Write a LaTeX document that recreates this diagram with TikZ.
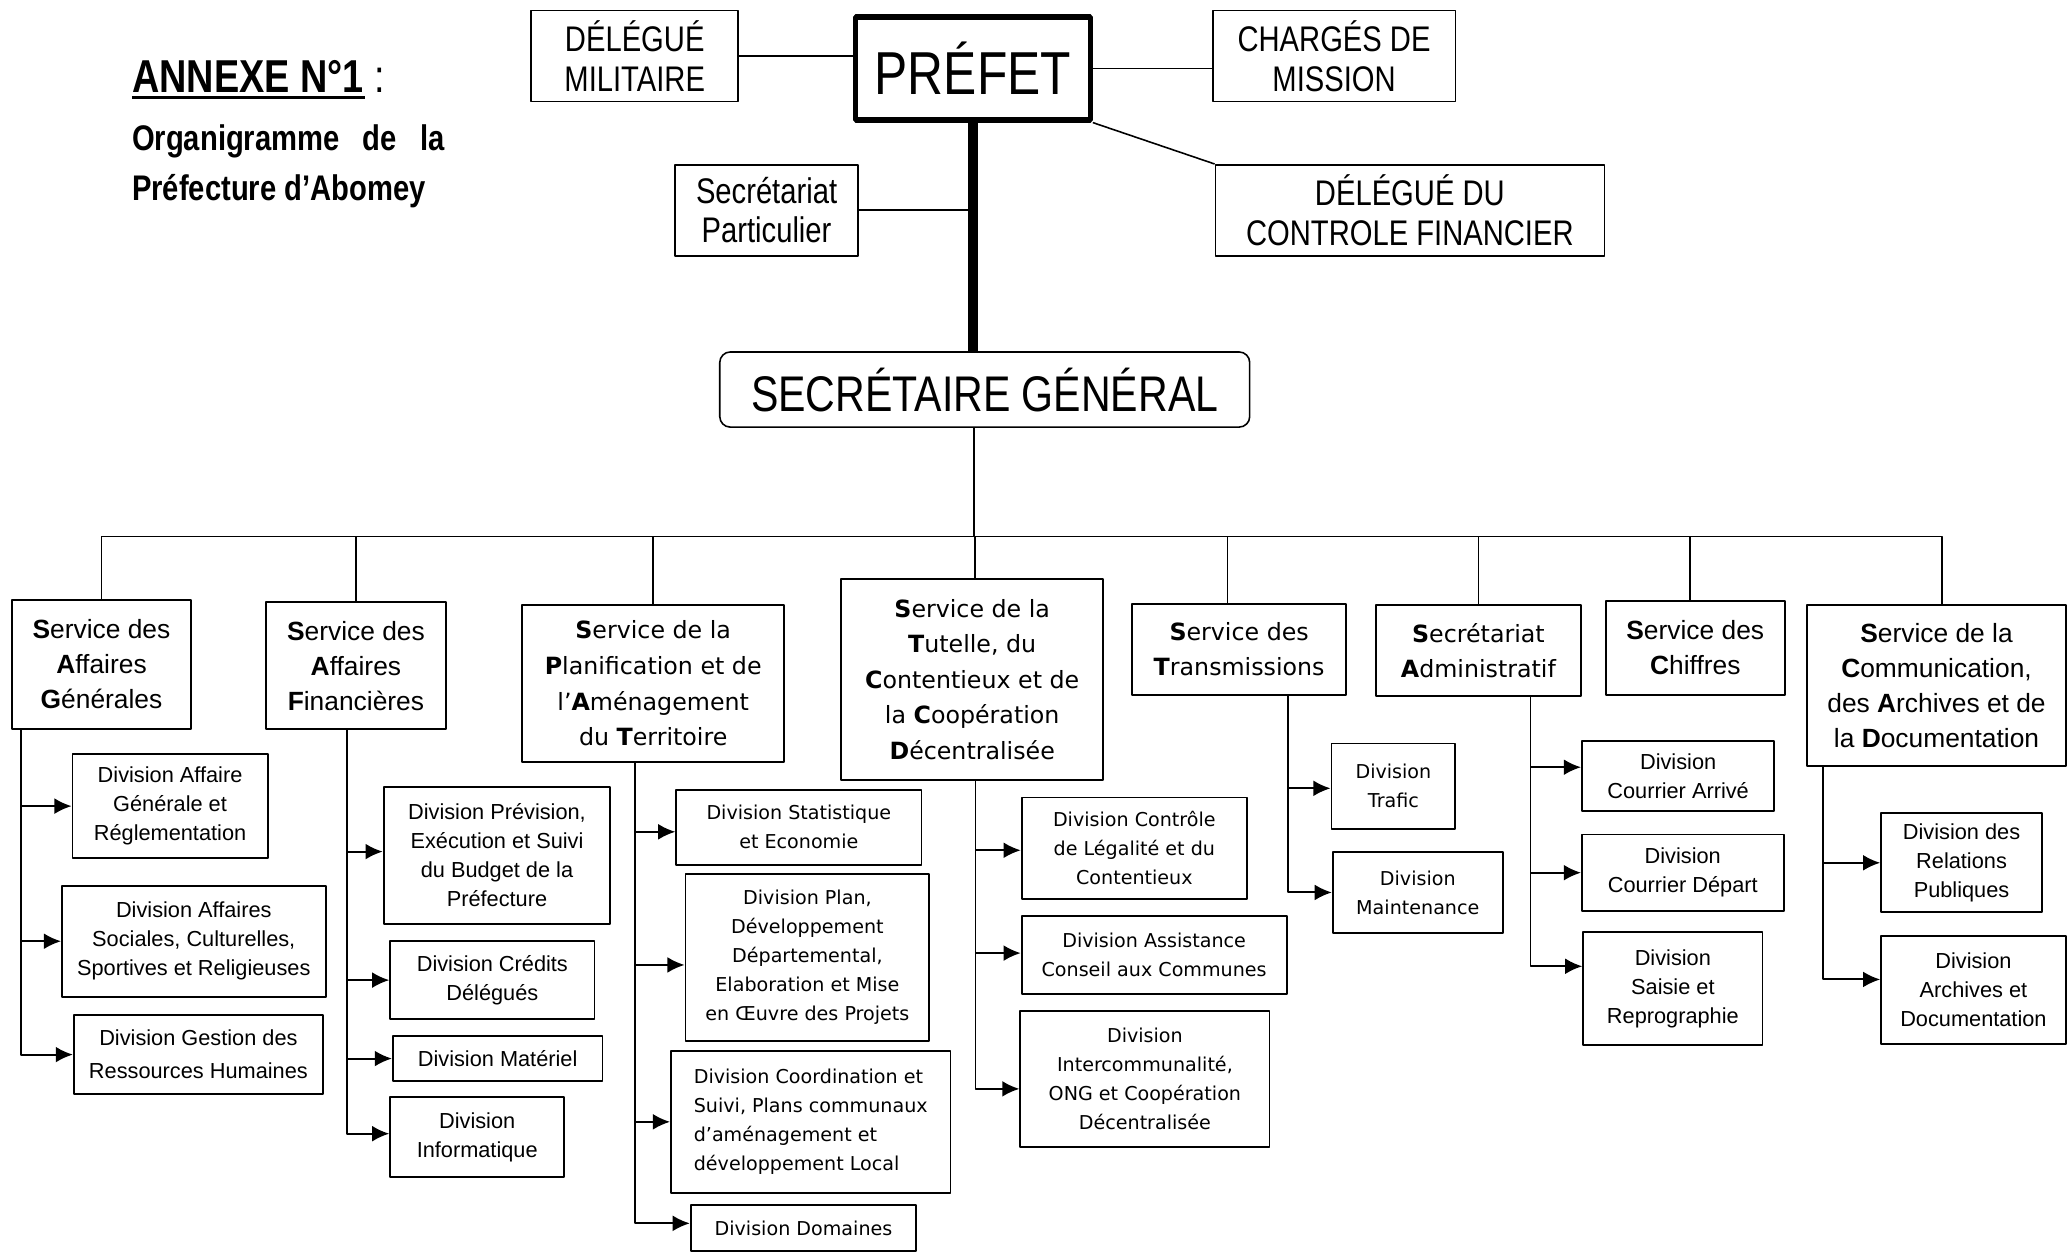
\documentclass[tikz,border=0pt]{standalone}
\usepackage{fontspec}
\setmainfont{Liberation Sans}
\newfontfamily\vfont{DejaVu Sans}
\newfontfamily\nfont[FakeStretch=0.82]{Liberation Sans}
\usetikzlibrary{arrows.meta}
\newcommand{\topfont}{\nfont\fontsize{27}{30}\selectfont}
\newcommand{\srvfont}{\fontsize{20}{26.5}\selectfont}
\newcommand{\vsrvfont}{\vfont\fontsize{18}{27}\selectfont}
\newcommand{\divfont}{\fontsize{16.5}{22}\selectfont}
\newcommand{\vdivfont}{\vfont\fontsize{14.5}{22}\selectfont}
\newcommand{\initl}[1]{\textbf{#1}}
\tikzset{
  box/.style={draw,line width=1.4pt,inner sep=0pt,align=center},
  topbox/.style={box,line width=1.2pt,font=\topfont},
  srvbox/.style={box,line width=1.5pt,font=\srvfont},
  vsrvbox/.style={box,line width=1.5pt,font=\vsrvfont},
  divbox/.style={box,font=\divfont},
  vdivbox/.style={box,font=\vdivfont},
  wire/.style={line width=1.2pt},
  link/.style={line width=1.5pt,->},
}
\begin{document}
\begin{tikzpicture}[x=1pt,y=-1pt,>={Latex[length=13pt,width=12pt]},line join=bevel]
\useasboundingbox (0,0) rectangle (1568,952);
%% title
  \node (title) at (100,58) [anchor=west,inner sep=0pt,font=\nfont\fontsize{35}{38}\selectfont] {\textbf{ANNEXE N°1} :};
  \draw [line width=2pt] ([yshift=-16pt]title.west) -- ++(177,0);
  \node (sub1) at (100,107) [anchor=west,inner sep=0pt,font=\nfont\bfseries\fontsize{27}{30}\selectfont] {\makebox[237pt][s]{Organigramme de la}};
  \node (sub2) at (100,145) [anchor=west,inner sep=0pt,font=\nfont\bfseries\fontsize{27}{30}\selectfont] {Préfecture d’Abomey};
%% top
  \node (prefet) at (738,52) [box,line width=4pt,minimum width=178,minimum height=78,font=\nfont\fontsize{46}{50}\selectfont] {PRÉFET};
  \node (dmil) at (481.5,42.5) [topbox,minimum width=157,minimum height=69] {DÉLÉGUÉ\\MILITAIRE};
  \node (charges) at (1012,42.5) [topbox,minimum width=184,minimum height=69] {CHARGÉS DE\\MISSION};
  \node (secpart) at (581.5,159.5) [topbox,minimum width=139,minimum height=69] {Secrétariat\\Particulier};
  \node (dcf) at (1069.5,159.5) [topbox,minimum width=295,minimum height=69] {DÉLÉGUÉ DU\\CONTROLE FINANCIER};
  \node (sg) at (747,295.5) [box,line width=1.2pt,rounded corners=8pt,minimum width=402,minimum height=57,font=\nfont\fontsize{38}{42}\selectfont] {SECRÉTAIRE GÉNÉRAL};

  \draw [wire] (dmil.east) -- (dmil.east -| prefet.west);
  \draw [wire] (prefet.east) -- (prefet.east -| charges.west);
  \draw [wire] (prefet.south east) -- (dcf.north west);
  \draw [line width=8pt] (prefet.south) -- (prefet.south |- sg.north);
  \draw [wire] (secpart.east) -- (secpart.east -| prefet.south);
%% services
  \node (sag) at (77,504) [srvbox,minimum width=136,minimum height=98] {\initl{S}ervice des\\\initl{A}ffaires\\\initl{G}énérales};
  \node (saf) at (270,505) [srvbox,minimum width=136,minimum height=96] {\initl{S}ervice des\\\initl{A}ffaires\\\initl{F}inancières};
  \node (spat) at (495.5,518.5) [vsrvbox,minimum width=199,minimum height=119] {\initl{S}ervice de la\\\initl{P}lanification et de\\l’\initl{A}ménagement\\du \initl{T}erritoire};
  \node (stccd) at (737.5,515.5) [vsrvbox,minimum width=199,minimum height=153] {\initl{S}ervice de la\\\initl{T}utelle, du\\\initl{C}ontentieux et de\\la \initl{C}oopération\\\initl{D}écentralisée};
  \node (stra) at (940,492.5) [vsrvbox,minimum width=162,minimum height=69] {\initl{S}ervice des\\\initl{T}ransmissions};
  \node (sadm) at (1121.5,493.5) [vsrvbox,minimum width=155,minimum height=69] {\initl{S}ecrétariat\\\initl{A}dministratif};
  \node (schif) at (1286,491.5) [srvbox,minimum width=136,minimum height=71] {\initl{S}ervice des\\\initl{C}hiffres};
  \node (scad) at (1469,520) [srvbox,minimum width=196,minimum height=122] {\initl{S}ervice de la\\\initl{C}ommunication,\\des \initl{A}rchives et de\\la \initl{D}ocumentation};

  \coordinate (bus) at (739,407);
  \draw [wire] (bus |- sg.south) -- (bus);
  \foreach \s/\dx in {sag/0,saf/0,spat/0,stccd/2,stra/-9,sadm/0,schif/-4,scad/4}
    \draw [wire] ([xshift=\dx pt]\s.north) |- (bus);
%% divisions
  \node (dag) at (129,611.5) [divbox,minimum width=148,minimum height=79] {Division Affaire\\Générale et\\Réglementation};
  \node (das) at (147,714) [divbox,minimum width=200,minimum height=84] {Division Affaires\\Sociales, Culturelles,\\Sportives et Religieuses};
  \node (drh) at (150.5,800) [divbox,minimum width=189,minimum height=60,font=\fontsize{16.5}{25}\selectfont] {Division Gestion des\\Ressources Humaines};

  \node (dbud) at (377,649) [divbox,minimum width=172,minimum height=104] {Division Prévision,\\Exécution et Suivi\\du Budget de la\\Préfecture};
  \node (dcre) at (373.5,743.5) [divbox,minimum width=155,minimum height=59] {Division Crédits\\Délégués};
  \node (dmat) at (377.5,803) [divbox,minimum width=159,minimum height=34] {Division Matériel};
  \node (dinf) at (362,862.5) [divbox,minimum width=132,minimum height=61] {Division\\Informatique};

  \node (dsta) at (606,627.5) [vdivbox,minimum width=186,minimum height=57] {Division Statistique\\et Economie};
  \node (dpla) at (612.5,726.5) [vdivbox,minimum width=185,minimum height=127] {Division Plan,\\Développement\\Départemental,\\Elaboration et Mise\\en Œuvre des Projets};
  \node (dcoo) at (615,851) [vdivbox,align=left,minimum width=212,minimum height=108] {Division Coordination et\\Suivi, Plans communaux\\d’aménagement et\\développement Local};
  \node (ddom) at (609.5,931.5) [vdivbox,minimum width=171,minimum height=35] {Division Domaines};

  \node (dleg) at (860.5,643.5) [vdivbox,minimum width=171,minimum height=77] {Division Contrôle\\de Légalité et du\\Contentieux};
  \node (dass) at (875.5,724.5) [vdivbox,minimum width=201,minimum height=59] {Division Assistance\\Conseil aux Communes};
  \node (dint) at (868.5,818.5) [vdivbox,minimum width=189,minimum height=103] {Division\\Intercommunalité,\\ONG et Coopération\\Décentralisée};

  \node (dtra) at (1057,596.5) [vdivbox,minimum width=94,minimum height=65] {Division\\Trafic};
  \node (dmai) at (1075.5,677) [vdivbox,minimum width=129,minimum height=62] {Division\\Maintenance};

  \node (dcar) at (1273,588.5) [divbox,minimum width=146,minimum height=53] {Division\\Courrier Arrivé};
  \node (dcde) at (1276.5,662) [divbox,minimum width=153,minimum height=58] {Division\\Courrier Départ};
  \node (dsai) at (1269,750) [divbox,minimum width=136,minimum height=86] {Division\\Saisie et\\Reprographie};

  \node (drel) at (1488,654.5) [divbox,minimum width=122,minimum height=75] {Division des\\Relations\\Publiques};
  \node (darc) at (1497,751) [divbox,minimum width=140,minimum height=82] {Division\\Archives et\\Documentation};
%% links
  \coordinate (sagsp) at (16,553);
  \coordinate (safsp) at (263,553);
  \coordinate (spatsp) at (482,578);
  \coordinate (stccdsp) at (740,592);
  \coordinate (strasp) at (977,527);
  \coordinate (sadmsp) at (1161,528);
  \coordinate (scadsp) at (1383,581);
  \foreach \d/\dy in {dag/0,das/0,drh/0}
    \draw [link] (sagsp) |- ([yshift=\dy pt]\d.west);
  \foreach \d/\dy in {dbud/3,dcre/0,dmat/0,dinf/2.5}
    \draw [link] (safsp) |- ([yshift=\dy pt]\d.west);
  \foreach \d/\dy in {dsta/-3.5,dpla/-5.5,dcoo/0,ddom/3.5}
    \draw [link] (spatsp) |- ([yshift=\dy pt]\d.west);
  \foreach \d/\dy in {dleg/-1.5,dass/1.5,dint/-7.5}
    \draw [link] (stccdsp) |- ([yshift=\dy pt]\d.west);
  \foreach \d/\dy in {dtra/-1.5,dmai/0}
    \draw [link] (strasp) |- ([yshift=\dy pt]\d.west);
  \foreach \d/\dy in {dcar/6.5,dcde/0,dsai/17}
    \draw [link] (sadmsp) |- ([yshift=\dy pt]\d.west);
  \foreach \d/\dy in {drel/0,darc/8}
    \draw [link] (scadsp) |- ([yshift=\dy pt]\d.west);
%
\end{tikzpicture}
\end{document}
